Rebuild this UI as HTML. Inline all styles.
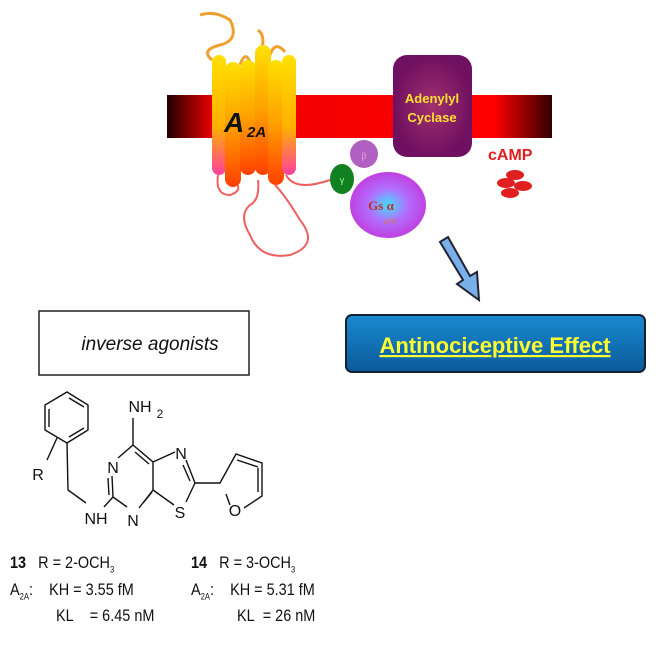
<!DOCTYPE html>
<html><head><style>
body{margin:0;background:#fff;width:656px;height:656px;overflow:hidden;position:relative;font-family:"Liberation Sans",Arial,sans-serif}
.t{position:absolute;font-size:17px;color:#111;transform:scaleX(0.85);transform-origin:left top;white-space:nowrap}
</style></head><body>
<svg width="656" height="656" style="position:absolute;left:0;top:0">
<defs>
<linearGradient id="mem" x1="0" x2="1"><stop offset="0" stop-color="#200"/><stop offset="0.12" stop-color="#e00"/><stop offset="0.85" stop-color="#f00"/><stop offset="1" stop-color="#300"/></linearGradient>
<linearGradient id="hx" x1="0" y1="0" x2="0" y2="1"><stop offset="0" stop-color="#ffe000"/><stop offset="0.5" stop-color="#ffa000"/><stop offset="1" stop-color="#ff4000"/></linearGradient>
<linearGradient id="hx2" x1="0" y1="0" x2="0" y2="1"><stop offset="0" stop-color="#ffe000"/><stop offset="0.6" stop-color="#ffb000"/><stop offset="1" stop-color="#ff40a0"/></linearGradient>
<radialGradient id="ac"><stop offset="0" stop-color="#a03070"/><stop offset="1" stop-color="#701060"/></radialGradient>
<radialGradient id="gs"><stop offset="0" stop-color="#40e0ff"/><stop offset="0.5" stop-color="#b070ff"/><stop offset="1" stop-color="#c040e0"/></radialGradient>
<linearGradient id="bx" x1="0" y1="0" x2="0" y2="1"><stop offset="0" stop-color="#1a8ad0"/><stop offset="1" stop-color="#0a5a9a"/></linearGradient>
</defs>
<rect x="167" y="95" width="385" height="43" fill="url(#mem)"/>
<path d="M200 15 Q215 10 230 20 Q240 40 220 45 Q200 50 212 60" fill="none" stroke="#f0a030" stroke-width="3"/>
<path d="M240 65 Q245 50 250 62 M270 55 Q275 40 285 52 M262 48 Q265 35 258 30" fill="none" stroke="#f0a030" stroke-width="3"/>
<g fill="none" stroke="#f06060" stroke-width="2">
<path d="M218 175 Q215 195 230 195 Q245 190 233 180"/>
<path d="M258 180 Q260 200 250 205 Q238 215 250 235 Q260 260 290 255 Q320 245 300 220 Q285 195 275 185"/>
<path d="M286 175 Q295 192 330 180"/>
</g>
<g>
<rect x="212" y="55" width="14" height="120" rx="7" fill="url(#hx2)"/>
<rect x="225" y="62" width="16" height="125" rx="8" fill="url(#hx)"/>
<rect x="240" y="60" width="16" height="115" rx="8" fill="url(#hx)"/>
<rect x="255" y="45" width="16" height="130" rx="8" fill="url(#hx)"/>
<rect x="268" y="60" width="16" height="125" rx="8" fill="url(#hx)"/>
<rect x="282" y="55" width="14" height="120" rx="7" fill="url(#hx2)"/>
</g>
<text x="224" y="132" font-size="28" font-weight="bold" font-style="italic" fill="#111">A</text>
<text x="247" y="137" font-size="15" font-weight="bold" font-style="italic" fill="#111">2A</text>
<rect x="393" y="55" width="79" height="102" rx="14" fill="url(#ac)"/>
<text x="432" y="103" font-size="13" font-weight="bold" fill="#ffe030" text-anchor="middle">Adenylyl</text>
<text x="432" y="122" font-size="13" font-weight="bold" fill="#ffe030" text-anchor="middle">Cyclase</text>
<text x="488" y="160" font-size="16" font-weight="bold" fill="#e02020">cAMP</text>
<g fill="#e02020"><ellipse cx="515" cy="175" rx="9" ry="5"/><ellipse cx="506" cy="183" rx="9" ry="5"/><ellipse cx="523" cy="186" rx="9" ry="5"/><ellipse cx="510" cy="193" rx="9" ry="5"/></g>
<ellipse cx="388" cy="205" rx="38" ry="33" fill="url(#gs)"/>
<text x="381" y="210" font-size="13" font-weight="bold" font-family="Liberation Serif" fill="#c03030" text-anchor="middle">Gs α</text>
<text x="390" y="224" font-size="6" fill="#e07030" text-anchor="middle">GTP</text>
<circle cx="364" cy="154" r="14" fill="#b060c0"/><text x="364" y="159" font-size="9" fill="#e0a0e0" text-anchor="middle">β</text>
<ellipse cx="342" cy="179" rx="12" ry="15" fill="#108020"/><text x="342" y="183" font-size="9" fill="#9f9" text-anchor="middle">γ</text>
<path d="M440 242 L448 237 L470 276 L477 272 L479 300 L457 284 L463 280 Z" fill="#7ab0e8" stroke="#223" stroke-width="2"/>
<rect x="346" y="315" width="299" height="57" rx="6" fill="url(#bx)" stroke="#123" stroke-width="2"/>
<text x="495" y="353" font-size="22" font-weight="bold" fill="#ffff30" text-anchor="middle" text-decoration="underline">Antinociceptive Effect</text>
<rect x="39" y="311" width="210" height="64" fill="#fff" stroke="#222" stroke-width="1.5"/>
<text x="150" y="350" font-size="19" font-style="italic" fill="#111" text-anchor="middle">inverse agonists</text>
<g stroke="#111" stroke-width="1.4" fill="none">
<path d="M67 392 L88 405 L88 430 L67 443 L45 430 L45 405 Z"/>
<path d="M69 398 L84 407 M49 409 L49 427 M69 437 L84 428"/>
<path d="M57 438 L47 460"/>
<path d="M67 443 L68 490 L86 503"/>
<path d="M104 507 L113 497"/>
<path d="M133 418 L133 445 L118 458"/>
<path d="M112 476 L113 497 M108 478 L109 495"/>
<path d="M113 497 L127 507"/>
<path d="M139 508 L153 490 M143 503 L152 492"/>
<path d="M153 490 L153 462 L133 445 M149 464 L135 452"/>
<path d="M153 462 L175 452"/>
<path d="M186 460 L195 483 M183 465 L190 481"/>
<path d="M195 483 L186 502"/>
<path d="M174 505 L153 490"/>
<path d="M195 483 L220 483 L236 454 L262 463 L262 496 L244 508 M226 494 L230 505 M237 460 L258 467 M258 468 L258 492"/>
</g>
<g font-size="16" fill="#111" text-anchor="middle">
<text x="38" y="480">R</text>
<text x="96" y="524">NH</text>
<text x="113" y="473">N</text>
<text x="133" y="526">N</text>
<text x="140" y="412">NH</text><text x="160" y="418" font-size="12">2</text>
<text x="181" y="459">N</text>
<text x="180" y="518">S</text>
<text x="235" y="516">O</text>
</g>
</svg>
<div class="t" style="left:10px;top:553px"><b>13</b>&nbsp;&nbsp; R = 2-OCH<sub style="font-size:9px">3</sub></div>
<div class="t" style="left:10px;top:580px">A<sub style="font-size:9px">2A</sub>:&nbsp;&nbsp;&nbsp; KH = 3.55 fM</div>
<div class="t" style="left:56px;top:606px">KL&nbsp;&nbsp;&nbsp; = 6.45 nM</div>
<div class="t" style="left:191px;top:553px"><b>14</b>&nbsp;&nbsp; R = 3-OCH<sub style="font-size:9px">3</sub></div>
<div class="t" style="left:191px;top:580px">A<sub style="font-size:9px">2A</sub>:&nbsp;&nbsp;&nbsp; KH = 5.31 fM</div>
<div class="t" style="left:237px;top:606px">KL&nbsp; = 26 nM</div>
</body></html>
